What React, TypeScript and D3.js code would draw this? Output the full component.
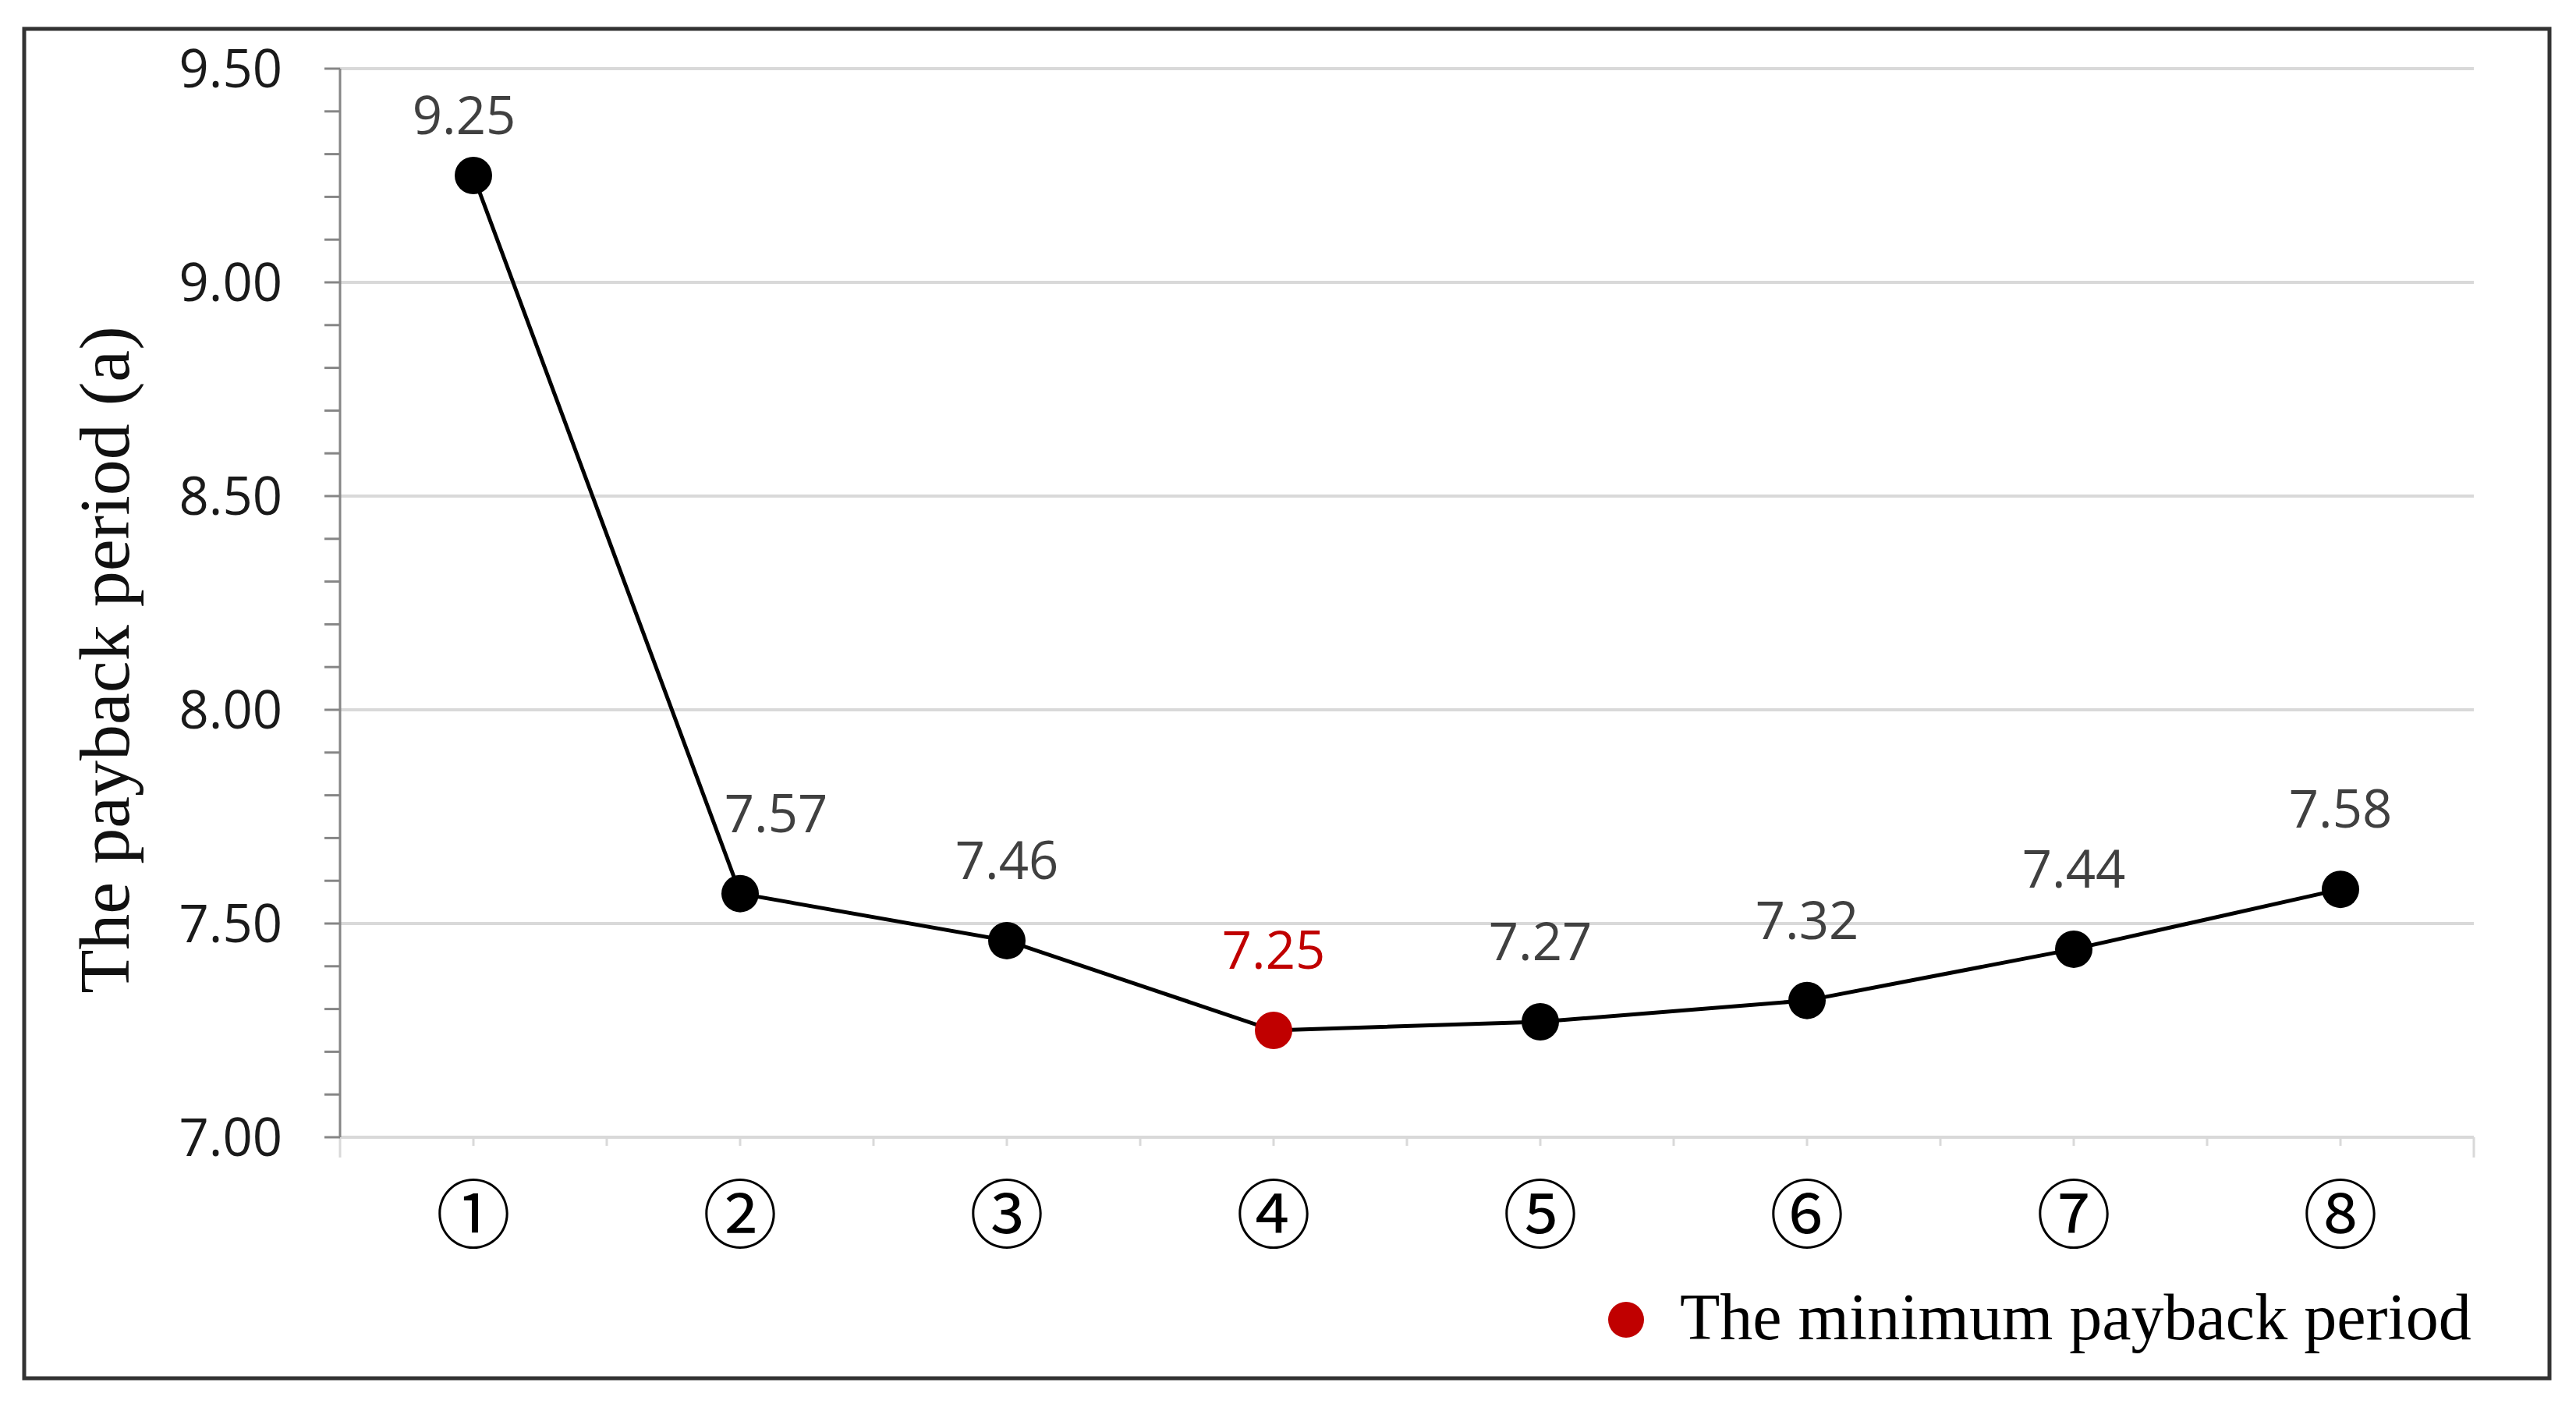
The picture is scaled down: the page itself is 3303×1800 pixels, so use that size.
import React from "react";
import * as d3 from "d3";

const categories = ["①", "②", "③", "④", "⑤", "⑥", "⑦", "⑧"];
const values = [9.25, 7.57, 7.46, 7.25, 7.27, 7.32, 7.44, 7.58];
const valueLabels = ["9.25", "7.57", "7.46", "7.25", "7.27", "7.32", "7.44", "7.58"];
const yMajorTicks = [7.0, 7.5, 8.0, 8.5, 9.0, 9.5];
const yTickLabels = ["7.00", "7.50", "8.00", "8.50", "9.00", "9.50"];
const yTitle = "The payback period (a)";
const legendLabel = "The minimum payback period";

// label nudges (layout only), in px
const labelNudgeX = [-12, 46, 0, 0, 0, 0, 0, 0];
const labelNudgeY = [26, 0, 0, 0, 0, 0, 0, 0];

const W = 3303;
const H = 1800;
const plotLeft = 436;
const plotRight = 3172;
const plotTop = 88;
const plotBottom = 1458;

const RED = "#c00000";
const GRID = "#d9d9d9";
const AXIS = "#868686";
const SANS = "'Open Sans', 'Noto Sans', sans-serif";
const SERIF = "'Liberation Serif', 'Times New Roman', serif";

export default function App() {
  const x = d3.scaleBand<string>().domain(categories).range([plotLeft, plotRight]).padding(0);
  const y = d3.scaleLinear().domain([7, 9.5]).range([plotBottom, plotTop]);
  const cx = (i: number) => (x(categories[i]) as number) + x.bandwidth() / 2;
  const minIdx = d3.minIndex(values);

  const line = d3
    .line<number>()
    .x((_, i) => cx(i))
    .y((d) => y(d));

  const minorTicks = d3.range(0, 26).map((k) => 7 + k * 0.1);
  const halfTicks = d3.range(0, categories.length * 2 + 1).map(
    (k) => plotLeft + (k * x.bandwidth()) / 2
  );

  return (
    <svg
      width={W}
      height={H}
      viewBox={`0 0 ${W} ${H}`}
      style={{ position: "absolute", left: 0, top: 0, background: "#fff" }}
    >
      <rect x={0} y={0} width={W} height={H} fill="#fff" />
      {/* frame */}
      <rect x={31} y={37} width={3269 - 31} height={1767 - 37} fill="none" stroke="#333" strokeWidth={5} />

      {/* gridlines */}
      {yMajorTicks.map((t) => (
        <line key={"g" + t} x1={plotLeft} x2={plotRight} y1={y(t)} y2={y(t)} stroke={GRID} strokeWidth={4} />
      ))}

      {/* x axis ticks */}
      {halfTicks.map((tx, k) => {
        const end = k === 0 || k === halfTicks.length - 1;
        return (
          <line key={"xt" + k} x1={tx} x2={tx} y1={plotBottom} y2={plotBottom + (end ? 26 : 11)} stroke={GRID} strokeWidth={3} />
        );
      })}

      {/* y axis */}
      <line x1={plotLeft} x2={plotLeft} y1={plotTop} y2={plotBottom} stroke={AXIS} strokeWidth={3} />
      {minorTicks.map((t, k) => (
        <line key={"yt" + k} x1={plotLeft - 20} x2={plotLeft} y1={y(t)} y2={y(t)} stroke={AXIS} strokeWidth={3} />
      ))}
      {yMajorTicks.map((t, i) => (
        <text
          key={"yl" + t}
          x={362}
          y={y(t) + 23.5}
          textAnchor="end"
          fontFamily={SANS}
          fontSize={67}
          fill="#1a1a1a"
        >
          {yTickLabels[i]}
        </text>
      ))}

      {/* y title */}
      <text
        transform={`translate(165, 846) rotate(-90)`}
        textAnchor="middle"
        fontFamily={SERIF}
        fontSize={92}
        fill="#111"
      >
        {yTitle}
      </text>

      {/* x labels */}
      {categories.map((c, i) => (
        <text
          key={"xl" + i}
          x={cx(i)}
          y={1550}
          textAnchor="middle"
          dominantBaseline="central"
          fontFamily="'Noto Sans CJK JP', 'DejaVu Sans', sans-serif"
          fontSize={96}
          fill="#000"
        >
          {c}
        </text>
      ))}

      {/* line */}
      <path d={line(values) || ""} fill="none" stroke="#000" strokeWidth={5} />

      {/* points */}
      {values.map((v, i) => (
        <circle key={"p" + i} cx={cx(i)} cy={y(v)} r={24} fill={i === minIdx ? RED : "#000"} />
      ))}

      {/* data labels */}
      {values.map((v, i) => (
        <text
          key={"dl" + i}
          x={cx(i) + labelNudgeX[i]}
          y={y(v) - 79 + labelNudgeY[i]}
          textAnchor="middle"
          fontFamily={SANS}
          fontSize={67}
          fill={i === minIdx ? RED : "#404040"}
        >
          {valueLabels[i]}
        </text>
      ))}

      {/* legend */}
      <circle cx={2085} cy={1692} r={23} fill={RED} />
      <text x={2154} y={1717} fontFamily={SERIF} fontSize={84} fill="#000">
        {legendLabel}
      </text>
    </svg>
  );
}
